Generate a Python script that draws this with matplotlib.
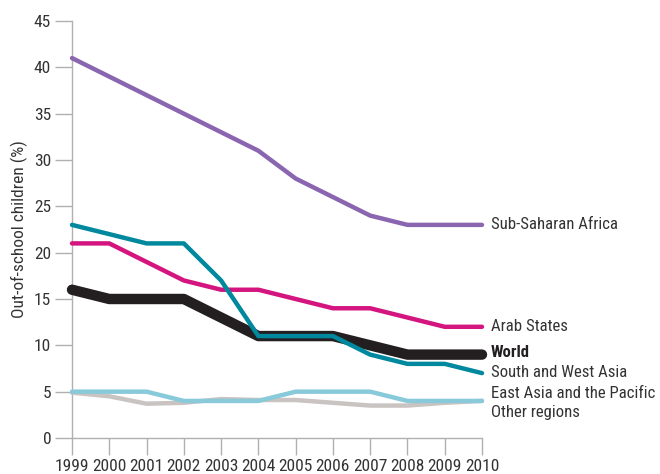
import matplotlib
matplotlib.use("Agg")
import matplotlib.pyplot as plt

years = [1999, 2000, 2001, 2002, 2003, 2004, 2005, 2006, 2007, 2008, 2009, 2010]
sub_saharan = [41, 39, 37, 35, 33, 31, 28, 26, 24, 23, 23, 23]
arab_states = [21, 21, 19, 17, 16, 16, 15, 14, 14, 13, 12, 12]
south_west_asia = [23, 22, 21, 21, 17, 11, 11, 11, 9, 8, 8, 7]
world = [16, 15, 15, 15, 13, 11, 11, 11, 10, 9, 9, 9]
east_asia = [5, 5, 5, 4, 4, 4, 5, 5, 5, 4, 4, 4]
other_regions = [4.9, 4.5, 3.7, 3.8, 4.2, 4.1, 4.1, 3.8, 3.5, 3.5, 3.8, 4.0]

labels = ["Sub-Saharan Africa", "Arab States", "World", "South and West Asia",
          "East Asia and the Pacific", "Other regions"]
label_y = [23, 12, 9.2, 7.1, 4.75, 2.7]

plt.rcParams['font.family'] = ['Roboto Condensed', 'DejaVu Sans']

fig = plt.figure(figsize=(6.6, 4.74), dpi=100)
ax = fig.add_axes([72/660, 1-438/474, (482-72)/660, (438-21)/474])

spine_c = "#b0b0b0"
txt_c = "#333333"

kw = dict(solid_capstyle="round", solid_joinstyle="round", clip_on=False)
ax.plot(years, other_regions, color="#c9c3c1", lw=3.2, zorder=2, **kw)
ax.plot(years, east_asia, color="#88c9da", lw=3.2, zorder=3, **kw)
ax.plot(years, world, color="#231f20", lw=7.5, zorder=4, **kw)
ax.plot(years, arab_states, color="#d4157f", lw=3.2, zorder=5, **kw)
ax.plot(years, south_west_asia, color="#00899e", lw=3.2, zorder=6, **kw)
ax.plot(years, sub_saharan, color="#8a66b1", lw=3.2, zorder=7, **kw)

ax.set_xlim(1999, 2010)
ax.set_ylim(0, 45)
ax.set_xticks(years)
ax.set_yticks(range(0, 46, 5))
ax.set_xticklabels([str(y) for y in years])

for s in ["top", "right"]:
    ax.spines[s].set_visible(False)
for s in ["left", "bottom"]:
    ax.spines[s].set_color(spine_c)
    ax.spines[s].set_linewidth(1)
    ax.spines[s].set_zorder(1)
ax.tick_params(axis="both", length=12, color=spine_c, width=1, labelsize=12.5, labelcolor=txt_c, pad=3)
ax.set_ylabel("Out-of-school children (%)", fontsize=12.5, color=txt_c, labelpad=4)

for lab, yv in zip(labels, label_y):
    ax.annotate(lab, xy=(2010, yv), xytext=(6.5, 0), textcoords="offset points",
                va="center", ha="left", fontsize=12.1, color=txt_c if lab != "World" else "#231f20",
                fontweight="bold" if lab == "World" else "normal", annotation_clip=False)

fig.savefig("out.png", dpi=100)
